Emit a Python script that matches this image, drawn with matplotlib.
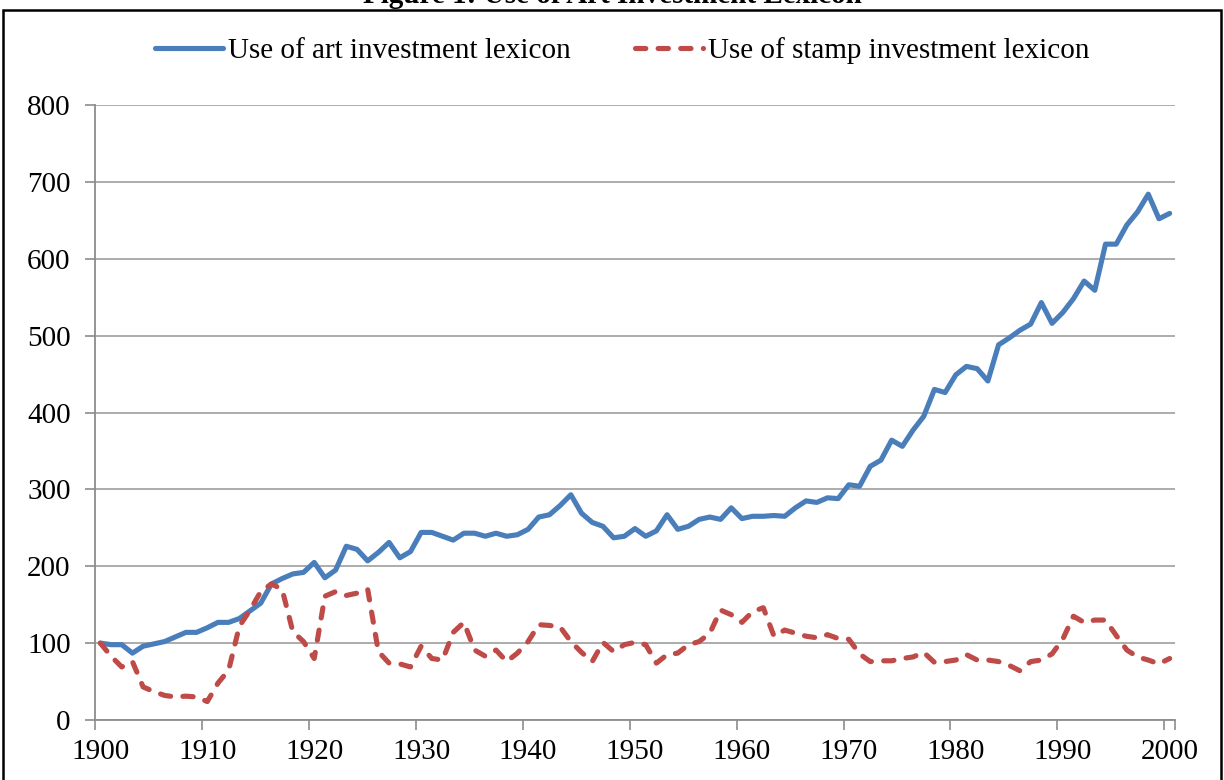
import matplotlib
matplotlib.use("Agg")
import matplotlib.pyplot as plt
from matplotlib.patches import Rectangle

years = list(range(1900, 2001))

art = [100, 98, 98, 87, 96, 99, 102, 108, 114, 114,
       120, 127, 127, 132, 142, 152, 177, 184, 190, 192,
       205, 185, 195, 226, 222, 207, 218, 231, 211, 219,
       244, 244, 239, 234, 243, 243, 239, 243, 239, 241,
       248, 264, 267, 279, 293, 269, 257, 252, 237, 239,
       249, 239, 246, 267, 248, 252, 261, 264, 261, 276,
       262, 265, 265, 266, 265, 276, 285, 283, 289, 288,
       306, 304, 330, 338, 364, 356, 377, 395, 430, 426,
       449, 460, 457, 441, 488, 497, 507, 515, 543, 516,
       530, 548, 571, 559, 619, 619, 644, 661, 684, 652,
       659]

stamp = [100, 83, 69, 76, 43, 37, 32, 30, 31, 30,
         24, 48, 65, 122, 143, 167, 177, 170, 115, 102,
         80, 161, 167, 162, 165, 170, 89, 74, 73, 69,
         96, 80, 78, 114, 127, 91, 83, 91, 76, 87,
         102, 124, 123, 121, 102, 88, 76, 101, 89, 98,
         101, 98, 74, 85, 87, 98, 102, 113, 143, 137,
         127, 141, 146, 109, 117, 113, 109, 107, 111, 106,
         105, 86, 76, 77, 77, 80, 82, 88, 75, 76,
         78, 85, 78, 78, 76, 71, 64, 76, 78, 86,
         105, 135, 127, 130, 130, 110, 91, 82, 78, 73,
         80]

series_labels = ["Use of art investment lexicon", "Use of stamp investment lexicon"]
title = "Figure 1: Use of Art Investment Lexicon"
y_ticks = [0, 100, 200, 300, 400, 500, 600, 700, 800]
x_label_years = list(range(1900, 2001, 10))

plt.rcParams['font.family'] = ['Liberation Serif', 'DejaVu Serif']

fig = plt.figure(figsize=(12.24, 7.8), dpi=100)
ax = fig.add_axes([95/1224, 1-720/780, (1175-95)/1224, (720-105)/780])

blue = "#4A7EBB"
red = "#BE4B48"
lw = 3.7
ax.plot(years, art, color=blue, lw=lw, solid_capstyle='round', solid_joinstyle='round',
        label=series_labels[0], zorder=3)
ax.plot(years, stamp, color=red, lw=lw, dashes=[2.0, 2.4], dash_capstyle='round',
        dash_joinstyle='round', label=series_labels[1], zorder=3)

ax.set_xlim(1899.5, 2000.5)
ax.set_ylim(0, 800)
ax.set_yticks(y_ticks)
ax.set_yticklabels([str(v) for v in y_ticks], fontsize=21)
ax.set_xticks(x_label_years)
ax.set_xticklabels([str(v) for v in x_label_years], fontsize=21)
ax.set_xticks([y - 0.5 for y in x_label_years] + [2000.5], minor=True)
ax.tick_params(axis='x', which='major', length=0, pad=14)
ax.tick_params(axis='x', which='minor', length=7.5, width=1.2, color='#8C8C8C', direction='out')
ax.tick_params(axis='y', which='major', length=7.5, width=1.2, color='#8C8C8C', direction='out', pad=10)

ax.grid(axis='y', color='#A6A6A6', lw=1.3, zorder=1)
for s in ['top', 'right']:
    ax.spines[s].set_visible(False)
for s in ['left', 'bottom']:
    ax.spines[s].set_color('#8C8C8C')
    ax.spines[s].set_linewidth(1.3)

leg = fig.legend(loc='center', bbox_to_anchor=(622/1224, 1-51/780), ncol=2, frameon=False,
                 fontsize=21, handlelength=2.35, handletextpad=0.15, columnspacing=2.2)

fig.text(0.5, 1-3/780, title, ha='center', va='baseline', fontsize=21, fontweight='bold')
fig.patches.append(Rectangle((3/1224, -0.05), (1221-3)/1224, 1.05-10/780, transform=fig.transFigure,
                             fill=False, edgecolor='black', lw=1.8))

fig.savefig("out.png", dpi=100)
